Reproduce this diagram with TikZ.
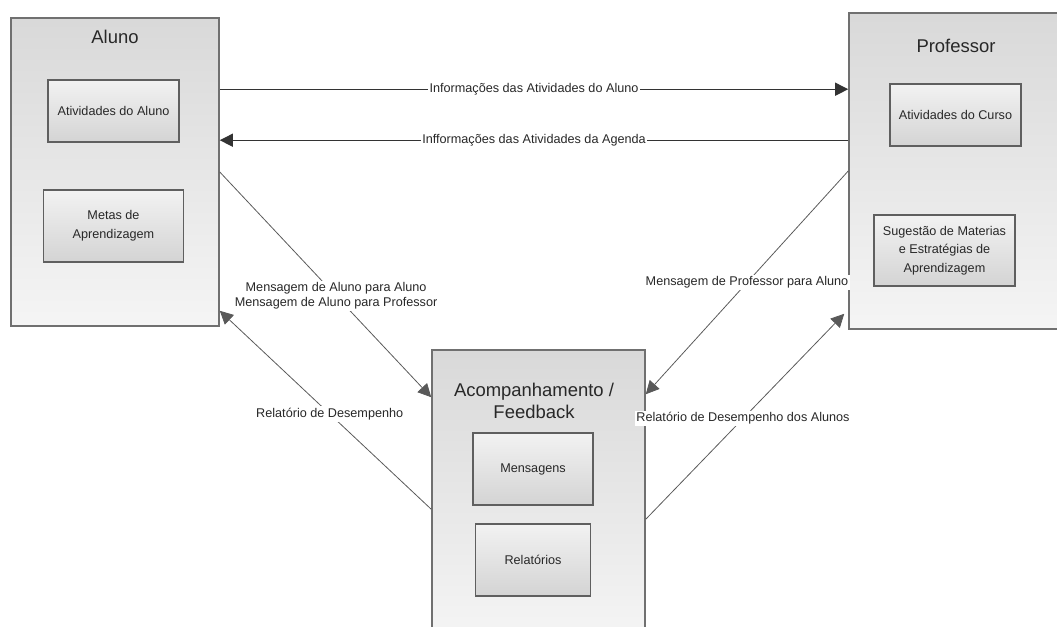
\documentclass[tikz,border=0pt]{standalone}
\usepackage{fontspec}
\setmainfont{Liberation Sans}
\usetikzlibrary{arrows.meta,positioning}
\definecolor{boxline}{RGB}{112,112,112}
\definecolor{textgray}{RGB}{40,40,40}

\begin{document}
\begin{tikzpicture}
  [actor/.style={rectangle, draw=boxline, line width=0.9pt, top color=black!15, bottom color=black!4, minimum width=4.16cm, minimum height=6.16cm},
  module/.style={rectangle, draw=boxline!85!black, line width=1pt, top color=black!5, bottom color=black!17, text=textgray, font=\fontsize{7.2}{10.4}\selectfont, align=center},
  title/.style={text=textgray, font=\fontsize{10.5}{12.5}\selectfont, align=center},
  flowlabel/.style={fill=white, inner sep=1pt, text=textgray, font=\fontsize{7.2}{8.5}\selectfont, align=center},
  info/.style={draw=black!80, line width=0.7pt, -{Triangle[length=7.5pt,width=7.5pt]}},
  msg/.style={draw=black!65, line width=0.45pt, -{Triangle[length=7.5pt,width=7.5pt]}}]
  \useasboundingbox (0,0) rectangle (21.14,-12.52);
  \clip (0,0) rectangle (21.14,-12.52);

% Aluno
\node (aluno) [actor] at (2.30,-3.44) {};
\node (aluno-title) [title] at (2.30,-0.74) {Aluno};
\node (ativ-aluno) [module, minimum width=2.62cm, minimum height=1.24cm] at (2.27,-2.22) {Atividades do Aluno};
\node (metas) [module, minimum width=2.8cm, minimum height=1.44cm, below=0.92cm of ativ-aluno] {Metas de\\Aprendizagem};

% Professor
\node (prof) [actor, minimum width=4.34cm, minimum height=6.32cm] at (19.15,-3.42) {};
\node (prof-title) [title] at (19.12,-0.92) {Professor};
\node (ativ-curso) [module, minimum width=2.62cm, minimum height=1.24cm] at (19.11,-2.30) {Atividades do Curso};
\node (sugestao) [module, minimum width=2.82cm, minimum height=1.42cm] at (18.89,-5.01) {Sugestão de Materias\\e Estratégias de\\Aprendizagem};

% Acompanhamento
\node (acomp) [actor, minimum width=4.26cm, minimum height=5.8cm] at (10.77,-9.90) {};
\node (acomp-title) [title] at (10.68,-8.02) {Acompanhamento /\\Feedback};
\node (mensagens) [module, minimum width=2.4cm, minimum height=1.44cm] at (10.66,-9.38) {Mensagens};
\node (relatorios) [module, minimum width=2.3cm, minimum height=1.44cm, below=0.34cm of mensagens] {Relatórios};

% Fluxos
\coordinate (info-out) at ([yshift=-1.44cm]aluno.north east);
\coordinate (agenda-in) at ([yshift=-2.46cm]aluno.north east);
\draw[info] (info-out) --node[flowlabel]{Informações das Atividades do Aluno} (info-out -| prof.west);
\draw[info] (agenda-in -| prof.west) --node[flowlabel]{Infformações das Atividades da Agenda} (agenda-in);

\coordinate (acomp-msg-in) at ([yshift=-0.96cm]acomp.north west);
\coordinate (acomp-rel-out) at ([yshift=-3.2cm]acomp.north west);
\coordinate (aluno-rel-in) at ([yshift=0.32cm]aluno.south east);
\coordinate (acomp-prof-in) at ([yshift=-0.9cm]acomp.north east);
\coordinate (acomp-prof-out) at ([yshift=-3.4cm]acomp.north east);
\coordinate (prof-rel-in) at ([xshift=-0.08cm,yshift=0.32cm]prof.south west);

\draw[msg] (aluno.east) --node[flowlabel,pos=.55]{Mensagem de Aluno para Aluno\\Mensagem de Aluno para Professor} (acomp-msg-in);
\draw[msg] (acomp-rel-out) --node[flowlabel,pos=.48]{Relatório de Desempenho} (aluno-rel-in);
\draw[msg] (prof.west) --node[flowlabel,pos=.5]{Mensagem de Professor para Aluno} (acomp-prof-in);
\draw[msg] (acomp-prof-out) --node[flowlabel,pos=.49]{Relatório de Desempenho dos Alunos} (prof-rel-in);
\end{tikzpicture}
\end{document}
